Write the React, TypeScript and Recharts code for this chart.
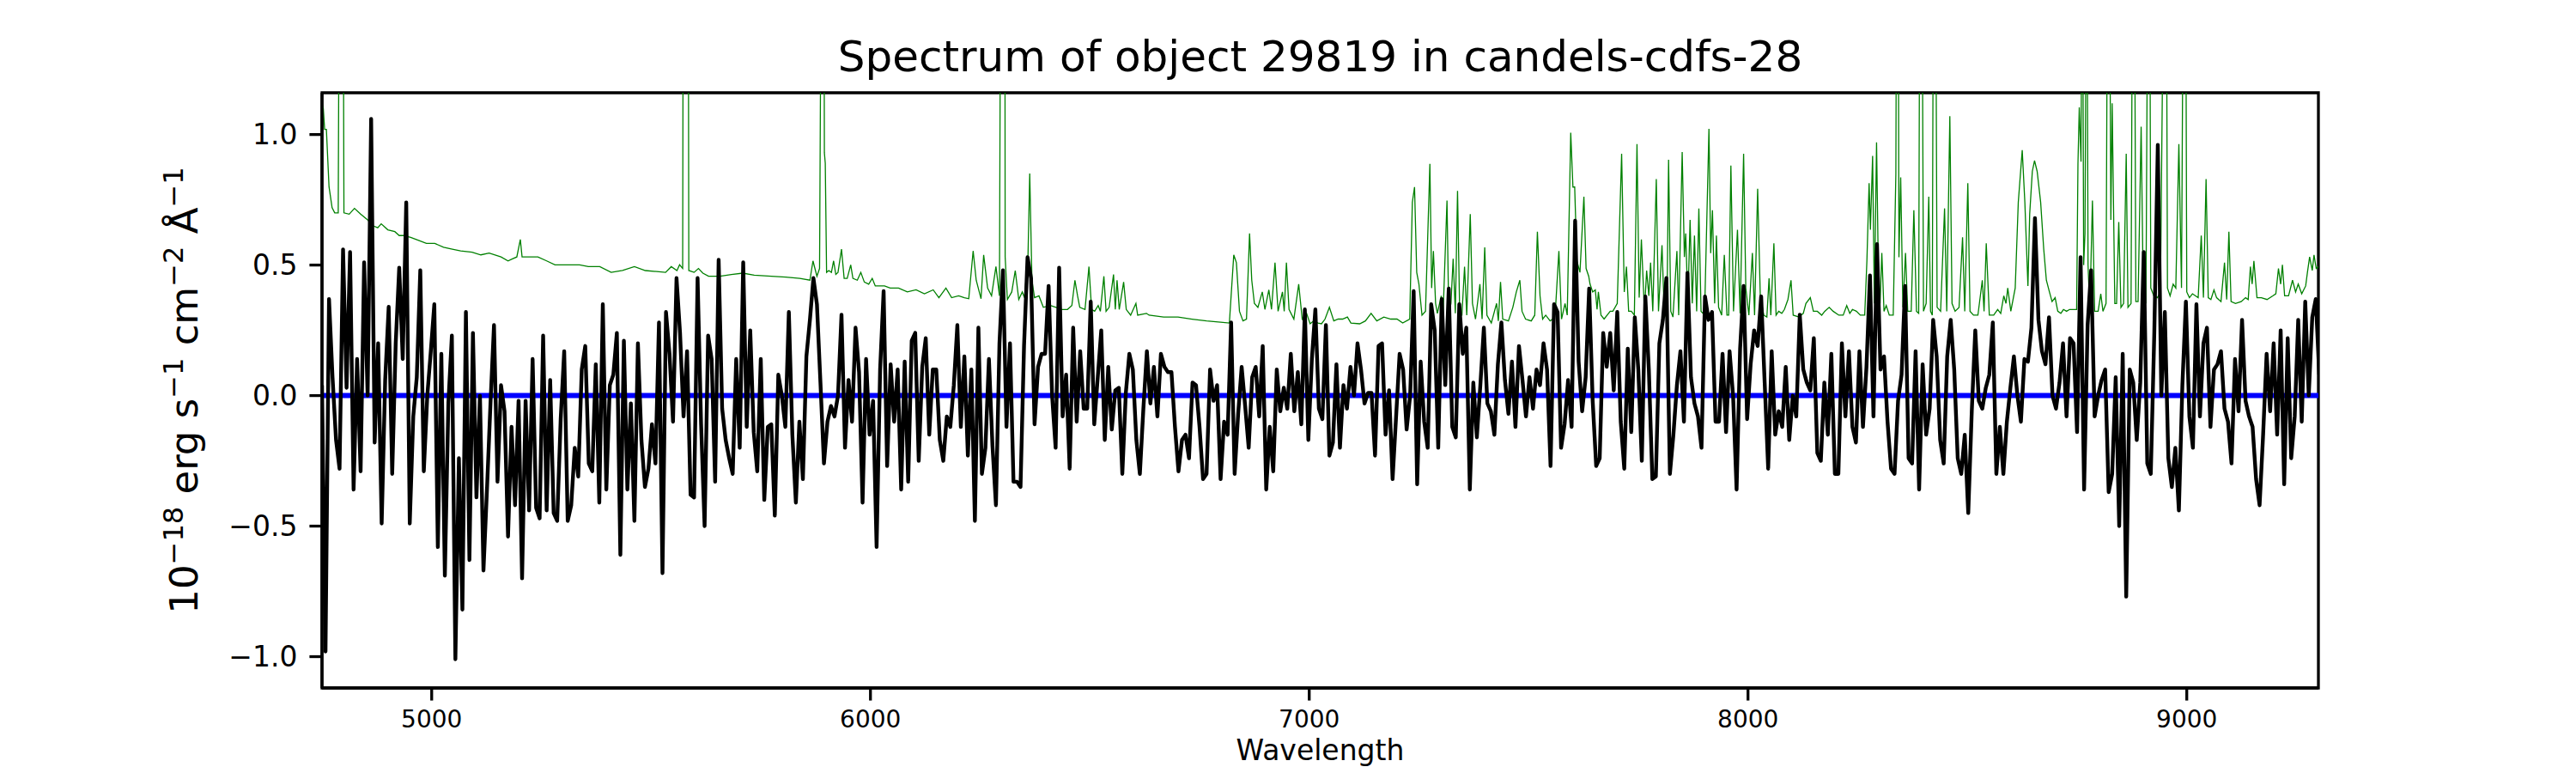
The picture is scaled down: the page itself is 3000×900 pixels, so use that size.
import { Line, LineChart, ReferenceArea, XAxis, YAxis } from 'recharts';

const FONT = '"DejaVu Sans", sans-serif';

// axis limits and ticks
const WAVE_MIN = 4750;
const WAVE_MAX = 9300;
const FLUX_MIN = -1.12;
const FLUX_MAX = 1.16;
const X_TICKS = [5000, 6000, 7000, 8000, 9000];
const Y_TICKS = [-1, -0.5, 0, 0.5, 1];

// observed flux, sampled every 8 A, in segments starting at these wavelengths
const FLUX_STEP = 8;
const FLUX_SEG_STARTS = [4750, 5326, 5902, 6478, 7054, 7630, 8206, 8782];

const FLUX_SEG_0 = [
  0.04, -0.98, 0.37, 0.07, -0.17, -0.28, 0.56, 0.03, 0.55, -0.36,
  0.14, -0.29, 0.51, 0.0, 1.06, -0.18, 0.2, -0.49, 0.06, 0.34,
  -0.3, 0.2, 0.49, 0.14, 0.74, -0.49, -0.08, 0.07, 0.48, -0.29,
  0.0, 0.17, 0.35, -0.58, 0.16, -0.69, -0.03, 0.23, -1.01, -0.24,
  -0.82, 0.32, -0.63, 0.24, -0.39, 0.0, -0.67, -0.36, -0.03, 0.27,
  -0.33, 0.04, -0.06, -0.54, -0.12, -0.42, -0.02, -0.7, -0.02, -0.44,
  0.14, -0.43, -0.47, 0.23, -0.44, 0.06, -0.45, -0.48, -0.09, 0.17,
  -0.48, -0.42,
];
const FLUX_SEG_1 = [
  -0.2, -0.31, 0.1, 0.19, -0.26, -0.29, 0.12, -0.41, 0.35, -0.36,
  0.04, 0.08, 0.24, -0.61, 0.21, -0.36, -0.03, -0.48, 0.2, -0.17,
  -0.35, -0.28, -0.11, -0.26, 0.28, -0.68, 0.32, 0.16, -0.1, 0.45,
  0.24, -0.08, 0.17, -0.38, -0.39, 0.45, -0.11, -0.5, 0.23, 0.14,
  -0.33, 0.52, -0.05, -0.17, -0.24, -0.3, 0.14, -0.2, 0.51, -0.12,
  0.25, -0.14, -0.29, 0.14, -0.4, -0.12, -0.11, -0.46, 0.08, 0.0,
  -0.12, 0.32, -0.15, -0.41, -0.1, -0.32, 0.15, 0.29, 0.45, 0.35,
  0.05, -0.26,
];
const FLUX_SEG_2 = [
  -0.1, -0.04, -0.08, 0.0, 0.31, -0.2, 0.06, -0.1, 0.26, 0.09,
  -0.41, 0.14, -0.15, -0.02, -0.58, 0.1, 0.4, -0.27, 0.12, -0.1,
  0.1, -0.36, 0.13, -0.33, 0.21, 0.24, -0.25, 0.11, 0.22, -0.15,
  0.1, 0.1, -0.17, -0.25, -0.08, -0.12, 0.04, 0.27, -0.12, 0.15,
  -0.23, 0.1, -0.48, 0.26, -0.3, -0.2, 0.14, -0.19, -0.42, 0.2,
  0.48, -0.12, 0.2, -0.33, -0.33, -0.35, 0.19, 0.53, 0.45, -0.11,
  0.11, 0.16, 0.16, 0.42, 0.0, -0.2, 0.49, -0.08, 0.08, -0.28,
  0.26, -0.1,
];
const FLUX_SEG_3 = [
  0.17, -0.05, -0.05, 0.36, -0.11, 0.07, 0.25, -0.17, 0.11, -0.13,
  0.02, 0.03, -0.3, 0.01, 0.16, 0.1, -0.17, -0.3, -0.05, 0.17,
  -0.03, 0.11, -0.08, 0.16, 0.11, 0.09, 0.09, -0.12, -0.29, -0.17,
  -0.15, -0.24, 0.05, 0.04, -0.12, -0.32, -0.3, 0.1, -0.02, 0.04,
  -0.32, -0.1, -0.15, 0.28, -0.3, -0.07, 0.11, -0.04, -0.2, 0.07,
  0.11, -0.08, 0.19, -0.36, -0.12, -0.29, 0.1, -0.06, 0.03, -0.05,
  0.16, -0.06, 0.09, -0.11, 0.33, -0.17, 0.14, 0.33, -0.05, -0.09,
  0.27, -0.23,
];
const FLUX_SEG_4 = [
  -0.18, 0.12, -0.2, 0.04, -0.05, 0.11, 0.0, 0.2, 0.1, -0.03,
  0.01, 0.01, -0.23, 0.19, 0.2, -0.15, 0.02, -0.32, -0.08, 0.16,
  0.1, -0.13, 0.0, 0.4, -0.34, 0.13, -0.1, -0.2, 0.35, 0.25,
  -0.2, 0.37, 0.04, 0.41, -0.12, -0.16, 0.35, 0.16, 0.26, -0.36,
  0.05, -0.16, 0.04, 0.26, -0.03, -0.06, -0.15, 0.12, 0.28, 0.06,
  -0.07, 0.13, -0.12, 0.19, 0.06, -0.08, 0.07, -0.05, 0.1, 0.04,
  0.2, 0.1, -0.27, 0.35, 0.32, -0.2, -0.11, 0.06, -0.12, 0.67,
  0.13, -0.06,
];
const FLUX_SEG_5 = [
  0.07, 0.41, -0.02, -0.27, -0.24, 0.24, 0.11, 0.24, 0.02, 0.32,
  -0.1, -0.28, 0.18, -0.14, 0.3, 0.1, -0.25, 0.38, 0.1, -0.32,
  -0.31, 0.2, 0.29, 0.45, -0.3, -0.15, 0.04, 0.17, -0.1, 0.47,
  0.07, -0.03, -0.08, -0.2, 0.38, 0.29, 0.32, -0.1, -0.1, 0.16,
  -0.14, 0.17, 0.0, -0.36, 0.18, 0.42, -0.09, 0.12, 0.25, 0.19,
  0.38, 0.05, -0.28, 0.17, -0.15, -0.06, -0.12, 0.11, -0.17, 0.0,
  -0.08, 0.31, 0.1, 0.05, 0.02, 0.22, -0.22, -0.25, 0.05, -0.15,
  0.16, -0.3,
];
const FLUX_SEG_6 = [
  -0.3, 0.2, -0.08, 0.17, -0.12, -0.18, 0.17, -0.12, 0.11, 0.46,
  -0.08, 0.58, 0.1, 0.15, -0.1, -0.28, -0.3, -0.02, 0.08, 0.42,
  -0.24, -0.26, 0.17, -0.36, 0.12, -0.15, -0.05, 0.29, 0.15, -0.17,
  -0.26, 0.15, 0.29, 0.1, -0.24, -0.3, -0.15, -0.45, -0.06, 0.25,
  -0.02, -0.05, 0.03, 0.08, 0.28, -0.3, -0.12, -0.3, -0.1, 0.03,
  0.15, 0.0, -0.1, 0.14, 0.13, 0.26, 0.68, 0.29, 0.17, 0.12,
  0.3, 0.0, -0.05, 0.05, 0.2, -0.08, 0.22, 0.2, -0.14, 0.53,
  -0.36, 0.27,
];
const FLUX_SEG_7 = [
  0.48, -0.08, 0.0, 0.06, 0.1, -0.37, -0.3, 0.07, -0.5, 0.16,
  -0.77, 0.1, 0.05, -0.17, 0.05, 0.55, -0.26, -0.3, 0.24, 0.96,
  0.0, 0.32, -0.24, -0.35, -0.2, -0.44, 0.04, 0.36, -0.08, -0.2,
  0.35, -0.08, 0.2, 0.26, -0.12, 0.1, 0.12, 0.17, -0.05, -0.1,
  -0.26, 0.14, -0.06, 0.29, -0.02, -0.08, -0.12, -0.32, -0.42, -0.15,
  0.16, -0.06, 0.2, -0.15, 0.25, -0.34, 0.22, -0.24, -0.08, 0.29,
  -0.1, 0.36, 0.0, 0.3, 0.37, 0.08,
];
const FLUX_SEGMENTS = [
  FLUX_SEG_0, FLUX_SEG_1, FLUX_SEG_2, FLUX_SEG_3,
  FLUX_SEG_4, FLUX_SEG_5, FLUX_SEG_6, FLUX_SEG_7,
];

// noise spectrum [wavelength, value]; sky-line peaks run off the top
const NOISE: [number, number][] = [
  [4750, 1.12], [4753, 1.1], [4756, 1.02], [4760, 1.02], [4766, 0.8], [4773, 0.72], [4779, 0.7],
  [4787, 0.7], [4791, 2.5], [4797, 2.5], [4800, 0.7], [4812, 0.695], [4824, 0.717], [4838, 0.695],
  [4854, 0.673], [4867, 0.65], [4877, 0.643], [4885, 0.658], [4900, 0.635], [4916, 0.628],
  [4926, 0.613], [4936, 0.613], [4952, 0.606], [4965, 0.598], [4988, 0.583], [5007, 0.583],
  [5027, 0.568], [5047, 0.561], [5066, 0.554], [5092, 0.549], [5112, 0.539], [5131, 0.546],
  [5158, 0.531], [5174, 0.516], [5184, 0.524], [5194, 0.531], [5202, 0.598], [5206, 0.531],
  [5223, 0.531], [5242, 0.531], [5262, 0.516], [5281, 0.501], [5301, 0.501], [5318, 0.501],
  [5337, 0.501], [5357, 0.494], [5383, 0.494], [5409, 0.472], [5435, 0.479], [5462, 0.494],
  [5487, 0.479], [5513, 0.475], [5533, 0.472], [5546, 0.494], [5559, 0.479], [5565, 0.501],
  [5572, 0.487], [5574, 2.5], [5584, 2.5], [5586, 0.479], [5598, 0.472], [5608, 0.487],
  [5618, 0.469], [5631, 0.457], [5657, 0.457], [5683, 0.464], [5709, 0.469], [5735, 0.461],
  [5774, 0.457], [5807, 0.454], [5839, 0.449], [5862, 0.442], [5869, 0.516], [5878, 0.457],
  [5884, 0.487], [5890, 2.5], [5893, 2.5], [5895, 0.93], [5897, 0.89], [5900, 0.472],
  [5905, 0.479], [5911, 0.472], [5916, 0.516], [5921, 0.464], [5926, 0.472], [5934, 0.561],
  [5940, 0.449], [5947, 0.449], [5955, 0.501], [5960, 0.449], [5970, 0.442], [5978, 0.472],
  [5986, 0.435], [5996, 0.427], [6004, 0.449], [6011, 0.42], [6032, 0.42], [6045, 0.412],
  [6064, 0.412], [6084, 0.397], [6104, 0.405], [6123, 0.39], [6143, 0.405], [6156, 0.375],
  [6172, 0.412], [6185, 0.375], [6201, 0.382], [6214, 0.375], [6224, 0.371], [6234, 0.554],
  [6241, 0.442], [6252, 0.371], [6258, 0.539], [6267, 0.412], [6276, 0.382], [6286, 0.494],
  [6294, 0.382], [6298, 2.5], [6306, 2.5], [6307, 0.531], [6312, 0.368], [6322, 0.397],
  [6330, 0.479], [6338, 0.368], [6346, 0.397], [6351, 0.375], [6359, 0.531], [6363, 0.851],
  [6368, 0.442], [6374, 0.375], [6384, 0.382], [6394, 0.338], [6410, 0.345], [6423, 0.338],
  [6436, 0.33], [6449, 0.33], [6459, 0.345], [6466, 0.442], [6472, 0.382], [6477, 0.338],
  [6489, 0.33], [6498, 0.494], [6504, 0.33], [6511, 0.323], [6519, 0.345], [6524, 0.323],
  [6532, 0.457], [6537, 0.323], [6544, 0.338], [6554, 0.464], [6558, 0.33], [6562, 0.442],
  [6567, 0.33], [6577, 0.435], [6583, 0.33], [6593, 0.308], [6605, 0.353], [6609, 0.308],
  [6629, 0.315], [6635, 0.308], [6668, 0.301], [6701, 0.301], [6733, 0.293], [6766, 0.286],
  [6798, 0.281], [6818, 0.278], [6828, 0.539], [6834, 0.509], [6841, 0.323], [6849, 0.286],
  [6857, 0.293], [6864, 0.621], [6869, 0.442], [6875, 0.353], [6883, 0.338], [6893, 0.397],
  [6899, 0.33], [6908, 0.405], [6914, 0.33], [6922, 0.509], [6929, 0.323], [6939, 0.397],
  [6943, 0.323], [6948, 0.509], [6954, 0.33], [6965, 0.293], [6976, 0.427], [6984, 0.293],
  [6994, 0.315], [7002, 0.275], [7010, 0.286], [7020, 0.278], [7028, 0.275], [7036, 0.293],
  [7046, 0.338], [7056, 0.286], [7066, 0.293], [7076, 0.293], [7087, 0.301], [7095, 0.278],
  [7115, 0.275], [7128, 0.286], [7141, 0.315], [7154, 0.286], [7170, 0.301], [7186, 0.293],
  [7200, 0.293], [7213, 0.278], [7229, 0.293], [7235, 0.74], [7240, 0.799], [7245, 0.472],
  [7250, 0.427], [7257, 0.308], [7265, 0.323], [7275, 0.888], [7279, 0.412], [7283, 0.554],
  [7288, 0.353], [7292, 0.315], [7301, 0.382], [7305, 0.308], [7314, 0.747], [7318, 0.308],
  [7323, 0.353], [7328, 0.524], [7333, 0.315], [7338, 0.784], [7343, 0.308], [7348, 0.308],
  [7354, 0.494], [7359, 0.308], [7367, 0.695], [7372, 0.353], [7379, 0.293], [7389, 0.427],
  [7394, 0.293], [7400, 0.568], [7405, 0.308], [7415, 0.278], [7427, 0.353], [7431, 0.286],
  [7436, 0.435], [7441, 0.293], [7454, 0.286], [7464, 0.338], [7472, 0.397], [7480, 0.442],
  [7485, 0.323], [7493, 0.293], [7506, 0.286], [7514, 0.308], [7520, 0.628], [7526, 0.382],
  [7532, 0.293], [7539, 0.308], [7549, 0.286], [7555, 0.293], [7562, 0.353], [7569, 0.554],
  [7575, 0.293], [7583, 0.353], [7588, 0.308], [7596, 1.007], [7601, 0.799], [7605, 0.799],
  [7610, 0.516], [7617, 0.472], [7626, 0.762], [7631, 0.487], [7637, 0.457], [7640, 0.427],
  [7646, 0.397], [7652, 0.405], [7656, 0.33], [7659, 0.397], [7665, 0.308], [7672, 0.293],
  [7686, 0.323], [7692, 0.323], [7702, 0.353], [7712, 0.926], [7718, 0.397], [7723, 0.494],
  [7728, 0.323], [7734, 0.323], [7741, 0.308], [7747, 0.963], [7752, 0.375], [7757, 0.598],
  [7764, 0.323], [7769, 0.479], [7774, 0.382], [7778, 0.509], [7783, 0.323], [7791, 0.829],
  [7796, 0.323], [7804, 0.576], [7809, 0.323], [7815, 0.293], [7819, 0.903], [7824, 0.323],
  [7829, 0.301], [7838, 0.554], [7842, 0.308], [7850, 0.933], [7855, 0.531], [7858, 0.621],
  [7863, 0.353], [7868, 0.673], [7873, 0.353], [7878, 0.613], [7883, 0.323], [7888, 0.717],
  [7893, 0.323], [7901, 0.308], [7911, 1.022], [7915, 0.546], [7919, 0.71], [7924, 0.353],
  [7928, 0.613], [7933, 0.338], [7940, 0.308], [7946, 0.539], [7952, 0.308], [7956, 0.308],
  [7961, 0.881], [7967, 0.323], [7976, 0.635], [7982, 0.315], [7990, 0.926], [7995, 0.412],
  [8002, 0.308], [8010, 0.546], [8015, 0.308], [8022, 0.792], [8028, 0.382], [8036, 0.308],
  [8043, 0.301], [8048, 0.449], [8052, 0.308], [8059, 0.583], [8064, 0.308], [8070, 0.323],
  [8077, 0.315], [8083, 0.33], [8091, 0.368], [8098, 0.442], [8103, 0.308], [8116, 0.301],
  [8126, 0.315], [8132, 0.353], [8142, 0.375], [8149, 0.323], [8158, 0.323], [8168, 0.308],
  [8175, 0.323], [8185, 0.338], [8194, 0.323], [8207, 0.308], [8217, 0.308], [8225, 0.345],
  [8232, 0.315], [8238, 0.33], [8247, 0.323], [8256, 0.308], [8266, 0.308], [8271, 0.516],
  [8276, 0.814], [8279, 0.635], [8284, 0.918], [8288, 0.353], [8293, 0.97], [8297, 0.487],
  [8301, 0.353], [8305, 0.546], [8310, 0.323], [8315, 0.345], [8322, 0.308], [8331, 0.308],
  [8337, 0.85], [8339, 2.0], [8342, 2.0], [8344, 0.53], [8348, 0.836], [8353, 0.338],
  [8359, 0.546], [8364, 0.323], [8372, 0.323], [8378, 0.71], [8384, 0.323], [8389, 0.315],
  [8392, 2.0], [8396, 2.0], [8400, 0.323], [8406, 0.353], [8412, 0.762], [8416, 0.323],
  [8420, 0.308], [8423, 2.0], [8427, 2.0], [8431, 0.338], [8439, 0.323], [8448, 0.717],
  [8453, 0.323], [8460, 1.07], [8465, 0.353], [8472, 0.323], [8481, 0.338], [8489, 0.606],
  [8494, 0.323], [8501, 0.814], [8506, 0.323], [8514, 0.308], [8524, 0.308], [8534, 0.442],
  [8538, 0.323], [8543, 0.583], [8550, 0.308], [8560, 0.308], [8569, 0.33], [8576, 0.315],
  [8583, 0.382], [8588, 0.353], [8592, 0.412], [8599, 0.323], [8609, 0.412], [8616, 0.74],
  [8625, 0.94], [8631, 0.74], [8638, 0.42], [8642, 0.695], [8648, 0.859], [8653, 0.9],
  [8659, 0.859], [8667, 0.74], [8674, 0.561], [8680, 0.442], [8687, 0.397], [8693, 0.36],
  [8700, 0.375], [8706, 0.323], [8713, 0.315], [8719, 0.33], [8726, 0.323], [8733, 0.33],
  [8742, 0.33], [8749, 0.33], [8752, 0.888], [8755, 1.104], [8759, 0.896], [8762, 2.0],
  [8765, 0.5], [8768, 0.621], [8772, 2.0], [8775, 0.5], [8779, 0.323], [8785, 0.747],
  [8790, 0.323], [8798, 0.323], [8804, 0.39], [8809, 0.323], [8816, 0.353], [8820, 2.0],
  [8823, 2.0], [8827, 0.673], [8830, 1.12], [8836, 0.353], [8840, 0.353], [8845, 0.665],
  [8850, 0.338], [8856, 0.353], [8862, 0.926], [8866, 0.338], [8873, 0.353], [8877, 2.0],
  [8880, 2.0], [8884, 0.36], [8889, 0.36], [8896, 1.03], [8901, 0.375], [8907, 0.353],
  [8912, 2.0], [8915, 2.0], [8918, 0.412], [8925, 0.382], [8933, 0.375], [8940, 0.397],
  [8949, 2.0], [8953, 2.0], [8956, 0.412], [8962, 0.382], [8969, 0.427], [8975, 0.412],
  [8982, 0.963], [8988, 0.412], [8993, 2.0], [8997, 2.0], [9000, 0.397], [9006, 0.375],
  [9013, 0.39], [9020, 0.382], [9026, 0.375], [9033, 0.613], [9038, 0.375], [9044, 0.829],
  [9049, 0.375], [9055, 0.368], [9062, 0.405], [9068, 0.375], [9078, 0.36], [9086, 0.509],
  [9091, 0.368], [9096, 0.628], [9101, 0.36], [9111, 0.353], [9124, 0.36], [9134, 0.375],
  [9140, 0.368], [9145, 0.494], [9149, 0.427], [9153, 0.516], [9160, 0.375], [9170, 0.375],
  [9183, 0.368], [9196, 0.382], [9203, 0.39], [9209, 0.487], [9214, 0.427], [9218, 0.501],
  [9223, 0.382], [9232, 0.382], [9241, 0.442], [9248, 0.397], [9254, 0.427], [9262, 0.39],
  [9271, 0.42], [9275, 0.472], [9280, 0.531], [9286, 0.479], [9290, 0.539], [9295, 0.487],
  [9300, 0.494],
];

// model (flat at zero)
const MODEL: [number, number][] = [
  [4750, 0],
  [9300, 0],
];

const fluxData = FLUX_SEGMENTS.flatMap((seg, k) =>
  seg.map((f, i) => ({ w: FLUX_SEG_STARTS[k] + i * FLUX_STEP, f })),
);
const noiseData = NOISE.map(([w, f]) => ({ w, f }));
const modelData = MODEL.map(([w, f]) => ({ w, f }));

const fmtY = (v: number) => (v < 0 ? '\u2212' : '') + Math.abs(v).toFixed(1);

const SPINE = 3.3;

export default function App() {
  return (
    <div style={{ position: 'absolute', left: 0, top: 0, width: 3000, height: 900, background: '#fff' }}>
      <LineChart width={3000} height={900} margin={{ top: 108, right: 300, bottom: 0, left: 0 }}>
        <XAxis
          type="number"
          dataKey="w"
          domain={[WAVE_MIN, WAVE_MAX]}
          ticks={X_TICKS}
          interval={0}
          allowDataOverflow
          height={99}
          tickSize={14.6}
          tickMargin={12}
          tick={{ fontSize: 28, fill: '#000', fontFamily: FONT }}
          axisLine={{ stroke: '#000', strokeWidth: SPINE }}
          tickLine={{ stroke: '#000', strokeWidth: SPINE }}
        />
        <YAxis
          type="number"
          domain={[FLUX_MIN, FLUX_MAX]}
          ticks={Y_TICKS}
          interval={0}
          allowDataOverflow
          width={375}
          tickSize={14.6}
          tickMargin={14}
          tickFormatter={fmtY}
          tick={{ fontSize: 33, fill: '#000', fontFamily: FONT }}
          axisLine={{ stroke: '#000', strokeWidth: SPINE }}
          tickLine={{ stroke: '#000', strokeWidth: SPINE }}
        />
        <Line
          data={noiseData}
          dataKey="f"
          name="noise"
          stroke="#008000"
          strokeWidth={1.3}
          dot={false}
          activeDot={false}
          isAnimationActive={false}
        />
        <Line
          data={modelData}
          dataKey="f"
          name="model"
          stroke="#0000ff"
          strokeWidth={6}
          dot={false}
          activeDot={false}
          isAnimationActive={false}
        />
        <Line
          data={fluxData}
          dataKey="f"
          name="flux"
          stroke="#000"
          strokeWidth={4.4}
          strokeLinejoin="round"
          dot={false}
          activeDot={false}
          isAnimationActive={false}
        />
        <ReferenceArea
          x1={WAVE_MIN}
          x2={WAVE_MAX}
          y1={FLUX_MIN}
          y2={FLUX_MAX}
          fill="none"
          stroke="#000"
          strokeWidth={SPINE}
          ifOverflow="visible"
        />
      </LineChart>
      <svg
        width={3000}
        height={900}
        style={{ position: 'absolute', left: 0, top: 0, pointerEvents: 'none' }}
        fontFamily={FONT}
      >
        <text x={1537.5} y={83} fontSize={50} textAnchor="middle" fill="#000">
          Spectrum of object 29819 in candels-cdfs-28
        </text>
        <text x={1537.5} y={885} fontSize={33} textAnchor="middle" fill="#000">
          Wavelength
        </text>
        <text
          x={230}
          y={454.5}
          fontSize={45}
          textAnchor="middle"
          fill="#000"
          transform="rotate(-90 230 454.5)"
        >
          10
          <tspan dy={-17} fontSize={32}>{'\u221218'}</tspan>
          <tspan dy={17}>{' erg s'}</tspan>
          <tspan dy={-17} fontSize={32}>{'\u22121'}</tspan>
          <tspan dy={17}>{' cm'}</tspan>
          <tspan dy={-17} fontSize={32}>{'\u22122'}</tspan>
          <tspan dy={17}>{' \u00c5'}</tspan>
          <tspan dy={-17} fontSize={32}>{'\u22121'}</tspan>
        </text>
      </svg>
    </div>
  );
}
